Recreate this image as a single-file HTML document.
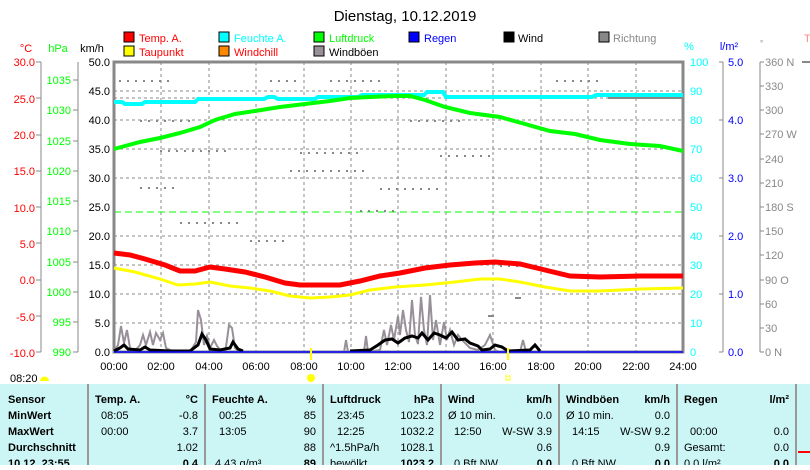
<!DOCTYPE html>
<html><head><meta charset="utf-8"><style>
body{margin:0;background:#fff;width:810px;height:465px;overflow:hidden;font-family:"Liberation Sans",sans-serif}
svg text{font-family:"Liberation Sans",sans-serif}
</style></head><body>
<svg width="810" height="465" viewBox="0 0 810 465" xmlns="http://www.w3.org/2000/svg">
<text x="405" y="21" font-size="15" text-anchor="middle">Dienstag, 10.12.2019</text>
<g font-size="11">
<rect x="124" y="32" width="10" height="10" fill="#f00" stroke="#000"/><text x="139" y="42" fill="#f00">Temp. A.</text>
<rect x="124" y="46" width="10" height="10" fill="#ff0" stroke="#000"/><text x="139" y="56" fill="#f00">Taupunkt</text>
<rect x="219" y="32" width="10" height="10" fill="#0ff" stroke="#000"/><text x="234" y="42" fill="#0ff">Feuchte A.</text>
<rect x="219" y="46" width="10" height="10" fill="#f80" stroke="#000"/><text x="234" y="56" fill="#f00">Windchill</text>
<rect x="314" y="32" width="10" height="10" fill="#0f0" stroke="#000"/><text x="329" y="42" fill="#0f0">Luftdruck</text>
<rect x="314" y="46" width="10" height="10" fill="#989098" stroke="#000"/><text x="329" y="56" fill="#000">Windböen</text>
<rect x="409" y="32" width="10" height="10" fill="#00f" stroke="#000"/><text x="424" y="42" fill="#00f">Regen</text>
<rect x="504" y="32" width="10" height="10" fill="#000" stroke="#000"/><text x="518" y="42">Wind</text>
<rect x="599" y="32" width="10" height="10" fill="#888" stroke="#000"/><text x="613" y="42" fill="#888">Richtung</text>
</g>
<g font-size="11">
<text x="26" y="52" fill="#f00" text-anchor="middle">°C</text>
<text x="58" y="52" fill="#0f0" text-anchor="middle">hPa</text>
<text x="92" y="52" text-anchor="middle">km/h</text>
<text x="689" y="50" fill="#0ff" text-anchor="middle">%</text>
<text x="729" y="50" fill="#00f" text-anchor="middle">l/m²</text>
<text x="760" y="46" fill="#888" font-size="8">°</text>
<text x="804" y="42" fill="#f88">T</text>
</g>
<g stroke="#888" fill="none"><line x1="41" y1="62" x2="41" y2="352"/><line x1="78" y1="62" x2="78" y2="352"/>
<line x1="723" y1="62" x2="723" y2="352"/><line x1="760" y1="62" x2="760" y2="352"/></g>
<g font-size="11" fill="#f00" text-anchor="end">
<text x="35" y="66">30.0</text><text x="35" y="103">25.0</text><text x="35" y="139">20.0</text><text x="35" y="175">15.0</text><text x="35" y="212">10.0</text><text x="35" y="248">5.0</text><text x="35" y="284">0.0</text><text x="35" y="321">-5.0</text><text x="35" y="357">-10.0</text>
</g>
<g stroke="#888"><line x1="36" y1="62" x2="41" y2="62"/><line x1="36" y1="98" x2="41" y2="98"/><line x1="36" y1="135" x2="41" y2="135"/><line x1="36" y1="171" x2="41" y2="171"/><line x1="36" y1="207" x2="41" y2="207"/><line x1="36" y1="243" x2="41" y2="243"/><line x1="36" y1="280" x2="41" y2="280"/><line x1="36" y1="316" x2="41" y2="316"/><line x1="36" y1="352" x2="41" y2="352"/>
<line x1="73" y1="80" x2="78" y2="80"/><line x1="73" y1="110" x2="78" y2="110"/><line x1="73" y1="141" x2="78" y2="141"/><line x1="73" y1="171" x2="78" y2="171"/><line x1="73" y1="201" x2="78" y2="201"/><line x1="73" y1="231" x2="78" y2="231"/><line x1="73" y1="262" x2="78" y2="262"/><line x1="73" y1="292" x2="78" y2="292"/><line x1="73" y1="322" x2="78" y2="322"/><line x1="73" y1="352" x2="78" y2="352"/></g>
<g font-size="11" fill="#0f0" text-anchor="end">
<text x="71" y="84">1035</text><text x="71" y="114">1030</text><text x="71" y="145">1025</text><text x="71" y="175">1020</text><text x="71" y="205">1015</text><text x="71" y="235">1010</text><text x="71" y="266">1005</text><text x="71" y="296">1000</text><text x="71" y="326">995</text><text x="71" y="356">990</text>
</g>
<g font-size="11" fill="#000" text-anchor="end">
<text x="110" y="66">50.0</text><text x="110" y="95">45.0</text><text x="110" y="124">40.0</text><text x="110" y="153">35.0</text><text x="110" y="182">30.0</text><text x="110" y="211">25.0</text><text x="110" y="240">20.0</text><text x="110" y="269">15.0</text><text x="110" y="298">10.0</text><text x="110" y="327">5.0</text><text x="110" y="356">0.0</text>
</g>
<g font-size="11" fill="#0ff">
<text x="690" y="66">100</text><text x="690" y="95">90</text><text x="690" y="124">80</text><text x="690" y="153">70</text><text x="690" y="182">60</text><text x="690" y="211">50</text><text x="690" y="240">40</text><text x="690" y="269">30</text><text x="690" y="298">20</text><text x="690" y="327">10</text><text x="690" y="356">0</text>
</g>
<g font-size="11" fill="#00f"><text x="728" y="66">5.0</text><text x="728" y="124">4.0</text><text x="728" y="182">3.0</text><text x="728" y="240">2.0</text><text x="728" y="298">1.0</text><text x="728" y="356">0.0</text></g>
<g stroke="#888"><line x1="719" y1="62" x2="723" y2="62"/><line x1="719" y1="120" x2="723" y2="120"/><line x1="719" y1="178" x2="723" y2="178"/><line x1="719" y1="236" x2="723" y2="236"/><line x1="719" y1="294" x2="723" y2="294"/><line x1="719" y1="352" x2="723" y2="352"/>
<line x1="760" y1="62" x2="764" y2="62"/><line x1="760" y1="86" x2="764" y2="86"/><line x1="760" y1="110" x2="764" y2="110"/><line x1="760" y1="134" x2="764" y2="134"/><line x1="760" y1="159" x2="764" y2="159"/><line x1="760" y1="183" x2="764" y2="183"/><line x1="760" y1="207" x2="764" y2="207"/><line x1="760" y1="231" x2="764" y2="231"/><line x1="760" y1="255" x2="764" y2="255"/><line x1="760" y1="280" x2="764" y2="280"/><line x1="760" y1="304" x2="764" y2="304"/><line x1="760" y1="328" x2="764" y2="328"/><line x1="760" y1="352" x2="764" y2="352"/></g>
<g font-size="11" fill="#888"><text x="765" y="66">360 N</text><text x="765" y="90">330</text><text x="765" y="114">300</text><text x="765" y="138">270 W</text><text x="765" y="163">240</text><text x="765" y="187">210</text><text x="765" y="211">180 S</text><text x="765" y="235">150</text><text x="765" y="259">120</text><text x="765" y="284">90 O</text><text x="765" y="308">60</text><text x="765" y="332">30</text><text x="765" y="356">0  N</text></g>
<line x1="802" y1="62" x2="810" y2="62" stroke="#888" stroke-width="2"/>
<g stroke="#888" stroke-dasharray="3,3" fill="none">
<line x1="114" y1="91" x2="683" y2="91"/><line x1="114" y1="120" x2="683" y2="120"/><line x1="114" y1="149" x2="683" y2="149"/><line x1="114" y1="178" x2="683" y2="178"/><line x1="114" y1="236" x2="683" y2="236"/><line x1="114" y1="265" x2="683" y2="265"/><line x1="114" y1="294" x2="683" y2="294"/><line x1="114" y1="323" x2="683" y2="323"/>
<line x1="161" y1="62" x2="161" y2="352"/><line x1="209" y1="62" x2="209" y2="352"/><line x1="256" y1="62" x2="256" y2="352"/><line x1="304" y1="62" x2="304" y2="352"/><line x1="351" y1="62" x2="351" y2="352"/><line x1="398" y1="62" x2="398" y2="352"/><line x1="446" y1="62" x2="446" y2="352"/><line x1="493" y1="62" x2="493" y2="352"/><line x1="541" y1="62" x2="541" y2="352"/><line x1="588" y1="62" x2="588" y2="352"/><line x1="636" y1="62" x2="636" y2="352"/>
<line x1="114" y1="98" x2="608" y2="98"/>
</g>
<line x1="608" y1="98" x2="683" y2="98" stroke="#888" stroke-width="2"/>
<line x1="114" y1="212" x2="683" y2="212" stroke="#0f0" stroke-dasharray="7,4"/>
<rect x="114" y="62" width="569" height="290" fill="none" stroke="#888" stroke-width="3"/>
<g stroke="#888" stroke-width="2" stroke-dasharray="2,6" fill="none">
<line x1="119" y1="81" x2="170" y2="81"/><line x1="270" y1="81" x2="300" y2="81"/><line x1="330" y1="81" x2="380" y2="81"/><line x1="556" y1="81" x2="600" y2="81"/>
<line x1="160" y1="151" x2="230" y2="151"/><line x1="300" y1="153" x2="360" y2="153"/><line x1="140" y1="188" x2="180" y2="188"/><line x1="290" y1="171" x2="370" y2="171"/><line x1="380" y1="189" x2="440" y2="189"/><line x1="440" y1="156" x2="490" y2="156"/><line x1="180" y1="223" x2="240" y2="223"/><line x1="360" y1="211" x2="400" y2="211"/><line x1="500" y1="266" x2="530" y2="266"/><line x1="140" y1="121" x2="190" y2="121"/><line x1="410" y1="121" x2="460" y2="121"/><line x1="250" y1="241" x2="290" y2="241"/></g>
<g fill="#888"><rect x="515" y="297" width="6" height="2"/><rect x="488" y="315" width="6" height="2"/></g>
<polyline fill="none" stroke="#0ff" stroke-width="4" points="114,102 122,102 125,104 142,104 145,102 195,102 198,99 264,99 268,97 274,97 278,99 315,99 318,97 358,97 362,95 424,95 427,92 443,92 446,97 592,97 596,95 683,95"/>
<polyline fill="none" stroke="#0f0" stroke-width="4" points="114,149 125,146 140,142 160,138 180,133 200,127 215,120 235,114 255,111 280,107 305,104 330,101 350,98 370,97 395,96 410,96 425,100 445,107 470,113 500,117 525,124 550,131 575,134 600,140 630,144 660,146 683,151"/>
<polyline fill="none" stroke="#f00" stroke-width="5" points="114,253 130,255 145,259 165,265 180,271 195,271 210,267 225,269 245,272 265,277 285,283 300,285 340,285 360,281 380,276 400,273 425,268 450,265 475,263 495,262 520,264 545,270 570,276 600,277 640,276 683,276"/>
<polyline fill="none" stroke="#ff0" stroke-width="3" points="114,268 135,272 160,279 178,285 195,284 210,282 230,286 250,288 270,291 290,296 310,298 330,297 350,295 370,290 395,287 425,285 455,282 480,279 500,279 520,282 545,287 570,291 600,291 640,289 683,288"/>
<polyline fill="none" stroke="#989098" stroke-width="2" points="114,352 118,345 121,326 124,343 127,330 130,348 134,352 140,345 143,335 146,345 150,332 153,345 156,333 160,340 163,333 166,348 170,350 177,352 190,352 196,342 198,310 201,320 204,345 207,336 210,348 214,340 217,346 222,352 226,347 229,325 232,328 235,348 240,352 344,352 346,340 348,352 364,352 366,336 368,352 380,350 384,330 387,345 391,325 394,340 398,316 400,335 403,310 406,330 409,342 412,300 415,335 418,344 421,297 424,330 427,345 430,295 433,340 436,320 440,345 444,322 447,340 450,330 454,345 458,335 462,340 470,348 478,350 485,345 490,335 495,350 500,352 520,352 523,340 526,352 683,352"/>
<polyline fill="none" stroke="#000" stroke-width="3" points="114,351 120,348 124,345 128,349 140,350 145,347 150,350 170,351 190,351 198,345 202,334 206,340 210,349 220,350 230,348 233,342 238,349 243,351"/>
<polyline fill="none" stroke="#000" stroke-width="3" points="350,351 370,350 378,345 385,340 392,339 398,343 405,338 412,336 418,338 422,333 428,340 434,333 440,335 446,338 452,332 458,340 465,339 470,343 478,346 482,350 490,349 495,345 502,347 508,351 530,350 535,345 540,351"/>
<line x1="114" y1="352" x2="683" y2="352" stroke="#00f" stroke-width="1.5"/>
<line x1="311" y1="348" x2="311" y2="360" stroke="#ff0" stroke-width="2"/>
<line x1="508" y1="348" x2="508" y2="360" stroke="#ff0" stroke-width="2"/>
<g font-size="11" text-anchor="middle"><text x="114" y="370">00:00</text><text x="161" y="370">02:00</text><text x="209" y="370">04:00</text><text x="256" y="370">06:00</text><text x="304" y="370">08:00</text><text x="351" y="370">10:00</text><text x="398" y="370">12:00</text><text x="446" y="370">14:00</text><text x="493" y="370">16:00</text><text x="541" y="370">18:00</text><text x="588" y="370">20:00</text><text x="636" y="370">22:00</text><text x="683" y="370">24:00</text></g>
<circle cx="311" cy="378" r="4" fill="#ff0"/>
<rect x="506" y="376" width="4" height="4" fill="none" stroke="#ff0"/>
<text x="10" y="382" font-size="11">08:20</text><path d="M40 381 a4 4 0 0 1 9 0z" fill="#ff0"/>
<rect x="0" y="384" width="810" height="81" fill="#ccf6f6"/>
<g stroke="#999" stroke-width="2"><line x1="88" y1="384" x2="88" y2="465"/><line x1="205" y1="384" x2="205" y2="465"/><line x1="323" y1="384" x2="323" y2="465"/><line x1="441" y1="384" x2="441" y2="465"/><line x1="559" y1="384" x2="559" y2="465"/><line x1="677" y1="384" x2="677" y2="465"/><line x1="796" y1="384" x2="796" y2="465"/></g>
<line x1="798" y1="452" x2="810" y2="452" stroke="#f00" stroke-width="2"/>
<g font-size="11">
<g font-weight="bold"><text x="8" y="403">Sensor</text><text x="8" y="419">MinWert</text><text x="8" y="435">MaxWert</text><text x="8" y="451">Durchschnitt</text><text x="8" y="467">10.12. 23:55</text>
<text x="95" y="403">Temp. A.</text><text x="198" y="403" text-anchor="end">°C</text>
<text x="212" y="403">Feuchte A.</text><text x="316" y="403" text-anchor="end">%</text>
<text x="330" y="403">Luftdruck</text><text x="434" y="403" text-anchor="end">hPa</text>
<text x="448" y="403">Wind</text><text x="552" y="403" text-anchor="end">km/h</text>
<text x="566" y="403">Windböen</text><text x="670" y="403" text-anchor="end">km/h</text>
<text x="684" y="403">Regen</text><text x="789" y="403" text-anchor="end">l/m²</text>
<text x="198" y="467" text-anchor="end">0.4</text><text x="316" y="467" text-anchor="end">89</text><text x="434" y="467" text-anchor="end">1023.2</text><text x="552" y="467" text-anchor="end">0.0</text><text x="670" y="467" text-anchor="end">0.0</text><text x="789" y="467" text-anchor="end">0.0</text></g>
<text x="101" y="419">08:05</text><text x="198" y="419" text-anchor="end">-0.8</text>
<text x="101" y="435">00:00</text><text x="198" y="435" text-anchor="end">3.7</text>
<text x="198" y="451" text-anchor="end">1.02</text>
<text x="219" y="419">00:25</text><text x="316" y="419" text-anchor="end">85</text>
<text x="219" y="435">13:05</text><text x="316" y="435" text-anchor="end">90</text>
<text x="316" y="451" text-anchor="end">88</text><text x="215" y="467">4.43 g/m³</text>
<text x="337" y="419">23:45</text><text x="434" y="419" text-anchor="end">1023.2</text>
<text x="337" y="435">12:25</text><text x="434" y="435" text-anchor="end">1032.2</text>
<text x="330" y="451">^1.5hPa/h</text><text x="434" y="451" text-anchor="end">1028.1</text><text x="330" y="467">bewölkt</text>
<text x="448" y="419">Ø 10 min.</text><text x="552" y="419" text-anchor="end">0.0</text>
<text x="454" y="435">12:50</text><text x="552" y="435" text-anchor="end">W-SW 3.9</text>
<text x="552" y="451" text-anchor="end">0.6</text><text x="454" y="467">0 Bft NW</text>
<text x="566" y="419">Ø 10 min.</text><text x="670" y="419" text-anchor="end">0.0</text>
<text x="572" y="435">14:15</text><text x="670" y="435" text-anchor="end">W-SW 9.2</text>
<text x="670" y="451" text-anchor="end">0.9</text><text x="572" y="467">0 Bft NW</text>
<text x="690" y="435">00:00</text><text x="789" y="435" text-anchor="end">0.0</text>
<text x="684" y="451">Gesamt:</text><text x="789" y="451" text-anchor="end">0.0</text><text x="684" y="467">0.0 l/m²</text>
</g>
</svg>
</body></html>
